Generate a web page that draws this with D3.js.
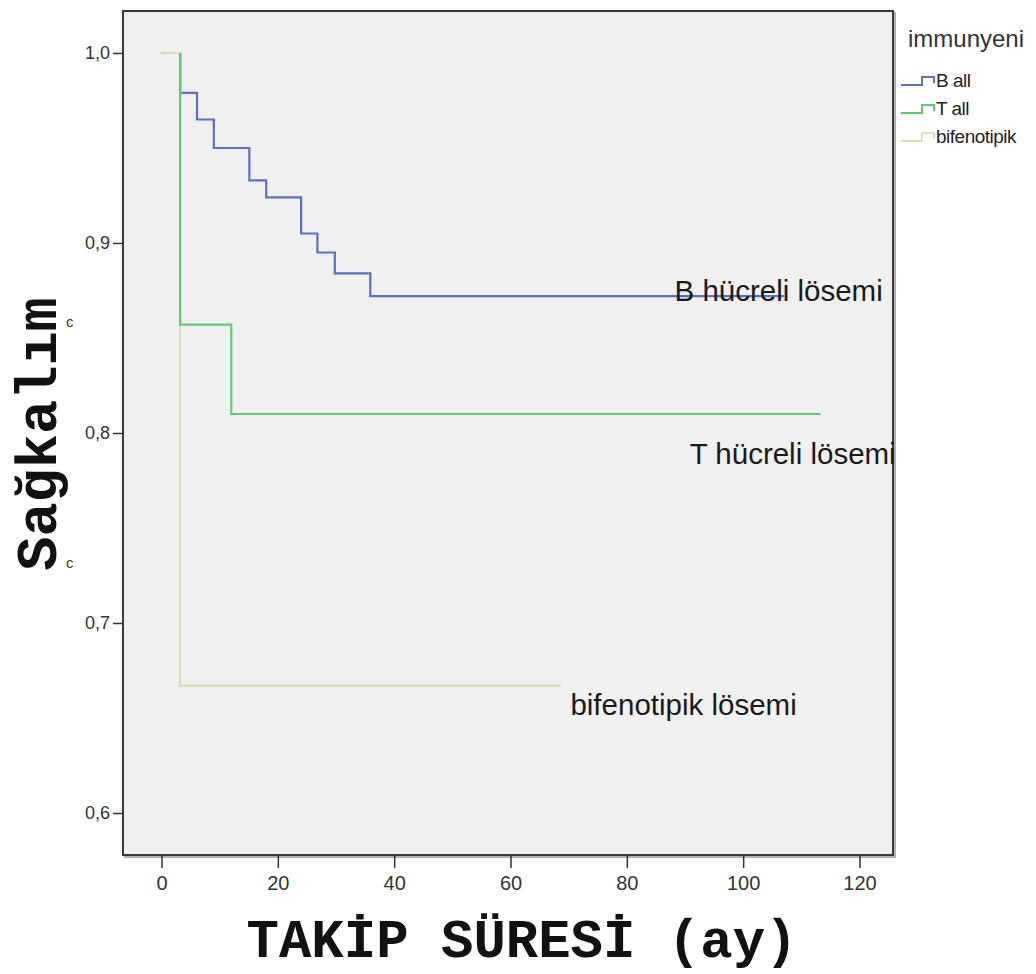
<!DOCTYPE html>
<html>
<head>
<meta charset="utf-8">
<script src="https://cdn.jsdelivr.net/npm/d3@7"></script>
<style>
  body { margin: 0; background: #fff; }
  text { font-family: "Liberation Sans", Arial, sans-serif; }
</style>
</head>
<body>
<div id="chart"></div>
<script>
// survival data (months, cumulative survival)
var bTime = [0, 3.2, 6.1, 9, 15.1, 18, 24, 26.8, 29.8, 35.9, 107];
var bSurv = [1, 0.979, 0.965, 0.950, 0.933, 0.924, 0.905, 0.895, 0.884, 0.872, 0.872];
var tTime = [3.2, 3.2, 12, 113.3];
var tSurv = [1, 0.857, 0.810, 0.810];
var fTime = [0, 3.2, 68.7];
var fSurv = [1, 0.667, 0.667];

var xTicks = [0, 20, 40, 60, 80, 100, 120];
var yTicks = [0.6, 0.7, 0.8, 0.9, 1.0];
var legendNames = ["B all", "T all", "bifenotipik"];
var curveLabels = ["B hücreli lösemi", "T hücreli lösemi", "bifenotipik lösemi"];
var colors = ["#5b70c0", "#62c872", "#e0dcb4"];

var margin = {top: 11, right: 143, bottom: 119, left: 123},
    width = 1036 - margin.left - margin.right,
    height = 974 - margin.top - margin.bottom;

var svg = d3.select("#chart")
  .append("svg")
    .attr("width", 1036)
    .attr("height", 974)
  .append("g")
    .attr("transform", "translate(" + margin.left + "," + margin.top + ")");

var x = d3.scaleLinear().domain([-6.62, 125.76]).range([0, width]);
var y = d3.scaleLinear().domain([0.5779, 1.0221]).range([height, 0]);

// plot background + frame with shadow
svg.append("rect")
    .attr("x", 2).attr("y", 2).attr("width", width).attr("height", height)
    .style("fill", "none").style("stroke", "#b0b0b0").style("stroke-width", 2);
svg.append("rect")
    .attr("width", width).attr("height", height)
    .style("fill", "#f0f0f0").style("stroke", "#3a3a3a").style("stroke-width", 2);

// axes
var xAxis = svg.append("g")
    .attr("transform", "translate(0," + height + ")")
    .call(d3.axisBottom(x).tickValues(xTicks).tickSize(13).tickSizeOuter(0).tickPadding(8));
var yAxis = svg.append("g")
    .call(d3.axisLeft(y).tickValues(yTicks).tickSize(10).tickSizeOuter(0).tickPadding(3)
      .tickFormat(function(d) { return d3.format(".1f")(d).replace(".", ","); }));
[xAxis, yAxis].forEach(function(a) {
  a.select(".domain").remove();
  a.selectAll(".tick line").style("stroke", "#333").style("stroke-width", 1.5);
  a.selectAll(".tick text").style("fill", "#333");
});
xAxis.selectAll(".tick text").style("font-size", "20px")
    .style("font-family", "'Liberation Sans Narrow', 'Liberation Sans', Arial, sans-serif");
yAxis.selectAll(".tick text").style("font-size", "18px");

// survival curves
var line = d3.line()
    .x(function(d) { return x(d[0]); })
    .y(function(d) { return y(d[1]); })
    .curve(d3.curveStepAfter);
var series = [
  d3.zip(bTime, bSurv),
  d3.zip(fTime, fSurv),
  d3.zip(tTime, tSurv)
];
var seriesColor = [colors[0], colors[2], colors[1]];
series.forEach(function(s, i) {
  svg.append("path")
      .datum(s)
      .attr("d", line)
      .style("fill", "none")
      .style("stroke", seriesColor[i])
      .style("stroke-width", 2.2);
});

// labels written on the plot
var labelPos = [[88.2, 0.8695], [90.8, 0.7835], [70.3, 0.6515]];
curveLabels.forEach(function(t, i) {
  svg.append("text")
      .attr("x", x(labelPos[i][0])).attr("y", y(labelPos[i][1]))
      .text(t)
      .style("font-size", "29.5px").style("fill", "#1a1a1a");
});

// axis titles
svg.append("text")
    .attr("x", 522 - margin.left).attr("y", 957 - margin.top)
    .style("text-anchor", "middle")
    .style("font-family", "'Liberation Mono', 'Courier New', monospace")
    .style("font-weight", "bold").style("font-size", "54px").style("fill", "#111")
    .text("TAKİP SÜRESİ (ay)");
svg.append("text")
    .attr("transform", "translate(" + (56 - margin.left) + "," + (434 - margin.top) + ") rotate(-90)")
    .style("text-anchor", "middle")
    .style("font-family", "'Liberation Mono', 'Courier New', monospace")
    .style("font-weight", "bold").style("font-size", "57px").style("fill", "#111")
    .text("Sağkalım");
// small stray marks left of the axis
[0.858, 0.731].forEach(function(v) {
  svg.append("text")
      .attr("x", 66 - margin.left).attr("y", y(v) + 4)
      .style("font-size", "15px").style("fill", "#4a3020")
      .text("c");
});

// legend
var lg = svg.append("g").attr("transform", "translate(" + (900 - margin.left) + ",0)");
lg.append("text").attr("x", 8).attr("y", 47 - margin.top)
    .text("immunyeni").style("font-size", "24px").style("fill", "#333");
legendNames.forEach(function(n, i) {
  var yy = 85 - margin.top + i * 28;
  lg.append("path")
      .attr("d", "M1," + yy + "H22V" + (yy - 8) + "H34V" + (yy - 2))
      .style("fill", "none").style("stroke", colors[i]).style("stroke-width", 2);
  lg.append("text").attr("x", 36).attr("y", yy + 2)
      .text(n).style("font-size", "19px").style("fill", "#222")
      .style("letter-spacing", "-0.5px");
});
</script>
</body>
</html>
